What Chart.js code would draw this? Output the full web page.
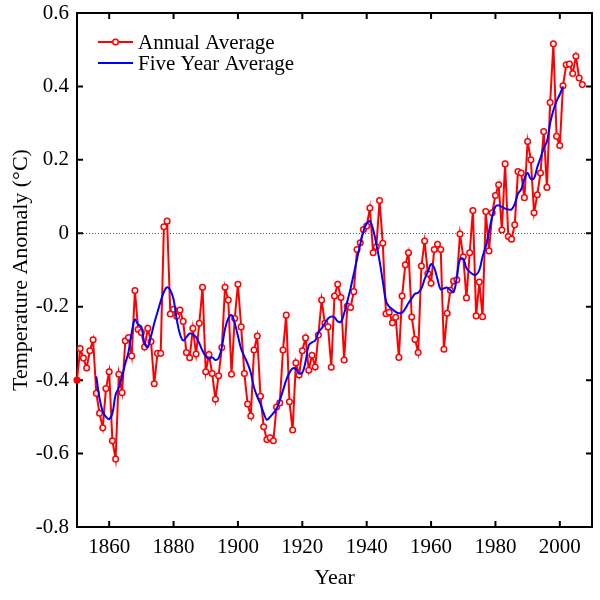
<!DOCTYPE html>
<html>
<head>
<meta charset="utf-8">
<script src="https://cdn.jsdelivr.net/npm/chart.js@4.4.1/dist/chart.umd.min.js"></script>
<style>
  html, body { margin: 0; padding: 0; background: #fff; }
</style>
</head>
<body>
<canvas id="tempChart" width="600" height="600"></canvas>
<script>
// ── DATA ──────────────────────────────────────────────────────
const years = [
  1850, 1851, 1852, 1853, 1854, 1855, 1856, 1857, 1858, 1859,
  1860, 1861, 1862, 1863, 1864, 1865, 1866, 1867, 1868, 1869,
  1870, 1871, 1872, 1873, 1874, 1875, 1876, 1877, 1878, 1879,
  1880, 1881, 1882, 1883, 1884, 1885, 1886, 1887, 1888, 1889,
  1890, 1891, 1892, 1893, 1894, 1895, 1896, 1897, 1898, 1899,
  1900, 1901, 1902, 1903, 1904, 1905, 1906, 1907, 1908, 1909,
  1910, 1911, 1912, 1913, 1914, 1915, 1916, 1917, 1918, 1919,
  1920, 1921, 1922, 1923, 1924, 1925, 1926, 1927, 1928, 1929,
  1930, 1931, 1932, 1933, 1934, 1935, 1936, 1937, 1938, 1939,
  1940, 1941, 1942, 1943, 1944, 1945, 1946, 1947, 1948, 1949,
  1950, 1951, 1952, 1953, 1954, 1955, 1956, 1957, 1958, 1959,
  1960, 1961, 1962, 1963, 1964, 1965, 1966, 1967, 1968, 1969,
  1970, 1971, 1972, 1973, 1974, 1975, 1976, 1977, 1978, 1979,
  1980, 1981, 1982, 1983, 1984, 1985, 1986, 1987, 1988, 1989,
  1990, 1991, 1992, 1993, 1994, 1995, 1996, 1997, 1998, 1999,
  2000, 2001, 2002, 2003, 2004, 2005, 2006, 2007
];

const annualAvg = [
  -0.400, -0.314, -0.340, -0.367, -0.320, -0.290, -0.436, -0.490, -0.530, -0.423,
  -0.377, -0.565, -0.615, -0.384, -0.434, -0.293, -0.284, -0.334, -0.156, -0.262,
  -0.270, -0.310, -0.259, -0.295, -0.410, -0.327, -0.327,  0.018,  0.033, -0.220,
  -0.207, -0.226, -0.209, -0.240, -0.325, -0.339, -0.259, -0.329, -0.245, -0.147,
  -0.377, -0.330, -0.382, -0.452, -0.388, -0.311, -0.147, -0.182, -0.384, -0.232,
  -0.139, -0.255, -0.382, -0.465, -0.498, -0.318, -0.280, -0.444, -0.527, -0.562,
  -0.557, -0.565, -0.473, -0.462, -0.318, -0.223, -0.459, -0.536, -0.353, -0.386,
  -0.320, -0.285, -0.373, -0.332, -0.364, -0.277, -0.182, -0.245, -0.255, -0.365,
  -0.171, -0.139, -0.175, -0.345, -0.198, -0.202, -0.159, -0.044, -0.026,  0.010,
   0.020,  0.069, -0.053, -0.037,  0.089, -0.027, -0.219, -0.215, -0.244, -0.229,
  -0.338, -0.171, -0.086, -0.053, -0.228, -0.289, -0.325, -0.089, -0.021, -0.110,
  -0.136, -0.044, -0.030, -0.044, -0.316, -0.218, -0.155, -0.130, -0.127, -0.002,
  -0.064, -0.176, -0.053,  0.062, -0.225, -0.133, -0.227,  0.059, -0.048,  0.056,
   0.103,  0.132,  0.009,  0.189, -0.009, -0.016,  0.023,  0.168,  0.164,  0.097,
   0.250,  0.200,  0.056,  0.105,  0.164,  0.277,  0.125,  0.356,  0.516,  0.264,
   0.239,  0.402,  0.459,  0.461,  0.435,  0.482,  0.423,  0.405
];

// five year curve runs 1856 .. 2001
const fiveYearYears = years.slice(6, 152);
const fiveYearAvg = [
                                  -0.390, -0.450, -0.485, -0.500,
  -0.506, -0.490, -0.440, -0.420, -0.390, -0.355, -0.323, -0.270, -0.235, -0.248,
  -0.255, -0.300, -0.310, -0.280, -0.245, -0.215, -0.185, -0.160, -0.147, -0.155,
  -0.180, -0.235, -0.275, -0.292, -0.283, -0.273, -0.275, -0.283, -0.300, -0.320,
  -0.335, -0.342, -0.338, -0.345, -0.340, -0.310, -0.260, -0.232, -0.223, -0.245,
  -0.280, -0.315, -0.335, -0.355, -0.380, -0.420, -0.445, -0.465, -0.490, -0.508,
  -0.500, -0.490, -0.478, -0.455, -0.428, -0.400, -0.380, -0.368, -0.370, -0.382,
  -0.380, -0.350, -0.305, -0.297, -0.292, -0.270, -0.259, -0.245, -0.232, -0.227,
  -0.229, -0.240, -0.241, -0.218, -0.185, -0.150, -0.110, -0.070, -0.030,  0.005,
   0.027,  0.033,  0.010, -0.030, -0.075, -0.130, -0.185, -0.200, -0.207, -0.214,
  -0.218, -0.216, -0.205, -0.190, -0.177, -0.165, -0.162, -0.150, -0.125, -0.105,
  -0.084, -0.095, -0.125, -0.153, -0.150, -0.148, -0.155, -0.160, -0.120, -0.070,
  -0.070, -0.095, -0.105, -0.112, -0.113, -0.100, -0.064, -0.036,  0.005,  0.045,
   0.073,  0.076,  0.072,  0.067,  0.065,  0.065,  0.080,  0.108,  0.120,  0.148,
   0.164,  0.148,  0.150,  0.180,  0.205,  0.232,  0.250,  0.300,  0.335,  0.360,
   0.378,  0.400
];

const xTickValues = [1860, 1880, 1900, 1920, 1940, 1960, 1980, 2000];
const xTickLabels = ['1860', '1880', '1900', '1920', '1940', '1960', '1980', '2000'];
const yTickValues = [-0.8, -0.6, -0.4, -0.2, 0, 0.2, 0.4, 0.6];
const yTickLabels = ['-0.8', '-0.6', '-0.4', '-0.2', '0', '0.2', '0.4', '0.6'];

const seriesNames = ['Annual Average', 'Five Year Average'];

// ── STYLE ─────────────────────────────────────────────────────
const RED  = '#ff0000';
const BLUE = '#0000ff';
const FONT = "'Liberation Serif', 'DejaVu Serif', serif";
const TICK_LEN = 6;

Chart.defaults.font.family = FONT;
Chart.defaults.color = '#000';

// frame, inner ticks, zero line, legend
const framePlugin = {
  id: 'framePlugin',
  beforeDatasetsDraw(chart) {
    const { ctx, chartArea: a, scales: { x, y } } = chart;
    ctx.save();
    // dotted zero line
    const y0 = Math.round(y.getPixelForValue(0)) + 0.5;
    ctx.strokeStyle = '#555';
    ctx.lineWidth = 1;
    ctx.setLineDash([1, 2]);
    ctx.beginPath();
    ctx.moveTo(a.left, y0);
    ctx.lineTo(a.right, y0);
    ctx.stroke();
    ctx.setLineDash([]);

    // box + ticks on all four sides, pointing inwards
    ctx.strokeStyle = '#000';
    ctx.lineWidth = 2;
    ctx.beginPath();
    x.ticks.forEach((t, i) => {
      const px = x.getPixelForTick(i);
      ctx.moveTo(px, a.bottom); ctx.lineTo(px, a.bottom - TICK_LEN);
      ctx.moveTo(px, a.top);    ctx.lineTo(px, a.top + TICK_LEN);
    });
    y.ticks.forEach((t, i) => {
      const py = y.getPixelForTick(i);
      ctx.moveTo(a.left, py);  ctx.lineTo(a.left + TICK_LEN, py);
      ctx.moveTo(a.right, py); ctx.lineTo(a.right - TICK_LEN, py);
    });
    ctx.stroke();
    ctx.strokeRect(a.left, a.top, a.right - a.left, a.bottom - a.top);
    ctx.restore();
  },
  afterDraw(chart) {
    const { ctx, chartArea: a } = chart;
    const lx0 = a.left + 21, lx1 = a.left + 56, tx = a.left + 61;
    const rows = [a.top + 29, a.top + 50];
    ctx.save();
    ctx.font = `21px ${FONT}`;
    ctx.textBaseline = 'middle';
    ctx.fillStyle = '#000';
    ctx.lineWidth = 2;

    ctx.strokeStyle = RED;
    ctx.beginPath(); ctx.moveTo(lx0, rows[0]); ctx.lineTo(lx1, rows[0]); ctx.stroke();
    ctx.beginPath();
    ctx.arc((lx0 + lx1) / 2, rows[0], 2.8, 0, Math.PI * 2);
    ctx.fillStyle = '#fff'; ctx.fill();
    ctx.lineWidth = 1.5; ctx.stroke();
    ctx.fillStyle = '#000';
    ctx.fillText(seriesNames[0], tx, rows[0] + 1);

    ctx.lineWidth = 2;
    ctx.strokeStyle = BLUE;
    ctx.beginPath(); ctx.moveTo(lx0, rows[1]); ctx.lineTo(lx1, rows[1]); ctx.stroke();
    ctx.fillText(seriesNames[1], tx, rows[1] + 1);
    ctx.restore();
  }
};

const annualPoints = years.map((yr, i) => ({ x: yr, y: annualAvg[i] }));
const fivePoints   = fiveYearYears.map((yr, i) => ({ x: yr, y: fiveYearAvg[i] }));

new Chart(document.getElementById('tempChart'), {
  type: 'line',
  data: {
    datasets: [
      {
        label: seriesNames[1],
        data: fivePoints,
        borderColor: BLUE,
        borderWidth: 2,
        pointRadius: 0,
        tension: 0.4,
        order: 0,
      },
      {
        label: seriesNames[0],
        data: annualPoints,
        borderColor: RED,
        borderWidth: 2,
        pointRadius: 2.8,
        pointBorderWidth: 1.5,
        pointBorderColor: RED,
        pointBackgroundColor: years.map((yr, i) => i === 0 ? RED : '#fff'),
        tension: 0,
        clip: false,
        order: 1,
      }
    ]
  },
  options: {
    responsive: false,
    animation: false,
    layout: { padding: { top: 13, right: 8, left: 0, bottom: 0 } },
    plugins: { legend: { display: false }, tooltip: { enabled: false } },
    scales: {
      x: {
        type: 'linear',
        min: 1850, max: 2010,
        grid: { display: false, drawTicks: false },
        border: { display: false },
        afterBuildTicks: s => { s.ticks = xTickValues.map(v => ({ value: v })); },
        afterFit: s => { s.height = 73; s.paddingLeft = 0; s.paddingRight = 0; },
        ticks: {
          padding: 8,
          maxRotation: 0,
          font: { size: 21 },
          color: '#000',
          callback: v => xTickLabels[xTickValues.indexOf(v)] ?? ''
        },
        title: { display: true, text: 'Year', font: { size: 22 }, color: '#000', padding: { top: 0, bottom: 9 } }
      },
      y: {
        min: -0.8, max: 0.6,
        grid: { display: false, drawTicks: false },
        border: { display: false },
        afterBuildTicks: s => { s.ticks = yTickValues.map(v => ({ value: v })); },
        afterFit: s => { s.width = 77; s.paddingTop = 0; s.paddingBottom = 0; },
        ticks: {
          padding: 8,
          font: { size: 21 },
          color: '#000',
          callback: v => {
            const i = yTickValues.findIndex(t => Math.abs(t - v) < 1e-6);
            return i >= 0 ? yTickLabels[i] : '';
          }
        },
        title: { display: true, text: 'Temperature Anomaly (°C)', font: { size: 22 }, color: '#000', padding: { top: 8, bottom: 0 } }
      }
    }
  },
  plugins: [framePlugin]
});
</script>
</body>
</html>
